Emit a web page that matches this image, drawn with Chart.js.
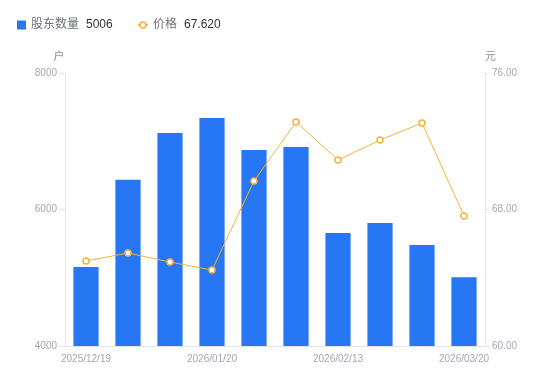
<!DOCTYPE html>
<html><head><meta charset="utf-8">
<script src="https://cdn.jsdelivr.net/npm/chart.js@4/dist/chart.umd.min.js"></script>
<style>
html,body{margin:0;padding:0;background:#fff;}
#wrap{position:relative;width:550px;height:381px;}
</style></head>
<body><div id="wrap"><canvas id="c" width="550" height="381"></canvas></div>
<script>
const categories = ['2025/12/19','2025/12/31','2026/01/09','2026/01/20','2026/01/30','2026/02/06','2026/02/13','2026/02/27','2026/03/10','2026/03/20'];
const holders = [5157, 6435, 7121, 7341, 6872, 6916, 5656, 5802, 5480, 5006];
const prices = [64.98, 65.45, 64.92, 64.45, 69.67, 73.13, 70.90, 72.07, 73.07, 67.62];
const leftTicks = [4000, 6000, 8000];
const rightTicks = [60, 68, 76];
const seriesNames = ['股东数量', '价格'];
const unitNames = ['户', '元'];

const BLUE = '#2777F5';
const ORANGE = '#F7B13C';
const FONT = '"Liberation Sans","Noto Sans CJK SC",sans-serif';
const AXIS = '#e3e5ea';
const TICKC = '#a3a6b1';

const overlay = {
  id: 'overlay',
  afterDraw(chart) {
    const ctx = chart.ctx;
    const ca = chart.chartArea;
    ctx.save();
    // legend
    ctx.font = '12px ' + FONT;
    ctx.textBaseline = 'middle';
    const y = 25;
    ctx.fillStyle = BLUE;
    ctx.fillRect(17, 20.5, 9, 9);
    let x = 31;
    ctx.fillStyle = '#6e7079';
    ctx.fillText(seriesNames[0], x, y);
    x += ctx.measureText(seriesNames[0]).width + 7;
    ctx.fillStyle = '#333';
    ctx.fillText(String(holders[holders.length-1]), x, y);
    // line icon
    ctx.strokeStyle = ORANGE;
    ctx.lineWidth = 1.5;
    ctx.beginPath(); ctx.moveTo(138, y); ctx.lineTo(148, y); ctx.stroke();
    ctx.beginPath(); ctx.arc(143, y, 3, 0, Math.PI*2);
    ctx.fillStyle = '#fff'; ctx.fill(); ctx.stroke();
    x = 153;
    ctx.fillStyle = '#6e7079';
    ctx.fillText(seriesNames[1], x, y);
    x += ctx.measureText(seriesNames[1]).width + 7;
    ctx.fillStyle = '#333';
    ctx.fillText(prices[prices.length-1].toFixed(3), x, y);
    // axis names
    ctx.font = '11px ' + FONT;
    ctx.fillStyle = '#8c8f9a';
    ctx.textAlign = 'center';
    ctx.fillText(unitNames[0], ca.left - 6, 57);
    ctx.textAlign = 'left';
    ctx.fillText(unitNames[1], ca.right, 57);
    ctx.restore();
  }
};

new Chart(document.getElementById('c'), {
  data: {
    labels: categories,
    datasets: [
      { type: 'line', label: seriesNames[1], data: prices, yAxisID: 'y1', order: 0,
        borderColor: ORANGE, borderWidth: 1, backgroundColor: '#fff',
        pointRadius: 3, pointBorderWidth: 1.5, pointBackgroundColor: '#fff', pointBorderColor: ORANGE,
        tension: 0 },
      { type: 'bar', label: seriesNames[0], data: holders, yAxisID: 'y', order: 1,
        backgroundColor: BLUE, barPercentage: 0.6, categoryPercentage: 1 }
    ]
  },
  options: {
    responsive: false, animation: false,
    layout: { padding: { top: 73, left: 0, right: 0, bottom: 0 } },
    plugins: { legend: { display: false }, tooltip: { enabled: false } },
    scales: {
      x: {
        type: 'category', offset: true,
        grid: { display: true, drawOnChartArea: false, drawTicks: false, tickLength: 0 },
        border: { color: AXIS },
        ticks: { autoSkip: false, maxRotation: 0, padding: 7, color: TICKC, font: { size: 10, family: FONT },
          callback: (v, i) => (i % 3 === 0 ? categories[i] : '') },
        afterFit: s => { s.height = 35; }
      },
      y: {
        position: 'left', min: leftTicks[0], max: leftTicks[leftTicks.length-1],
        afterBuildTicks: s => { s.ticks = leftTicks.map(v => ({ value: v })); },
        grid: { drawOnChartArea: false, drawTicks: true, tickLength: 6, color: AXIS },
        border: { color: AXIS },
        ticks: { padding: 2, color: TICKC, font: { size: 10, family: FONT }, callback: v => String(v) },
        afterFit: s => { s.width = 65; }
      },
      y1: {
        position: 'right', min: rightTicks[0], max: rightTicks[rightTicks.length-1],
        afterBuildTicks: s => { s.ticks = rightTicks.map(v => ({ value: v })); },
        grid: { drawOnChartArea: false, drawTicks: true, tickLength: 4, color: AXIS },
        border: { color: AXIS },
        ticks: { padding: 3, color: TICKC, font: { size: 10, family: FONT }, callback: v => Number(v).toFixed(2) },
        afterFit: s => { s.width = 65; }
      }
    }
  },
  plugins: [overlay]
});
</script></body></html>
